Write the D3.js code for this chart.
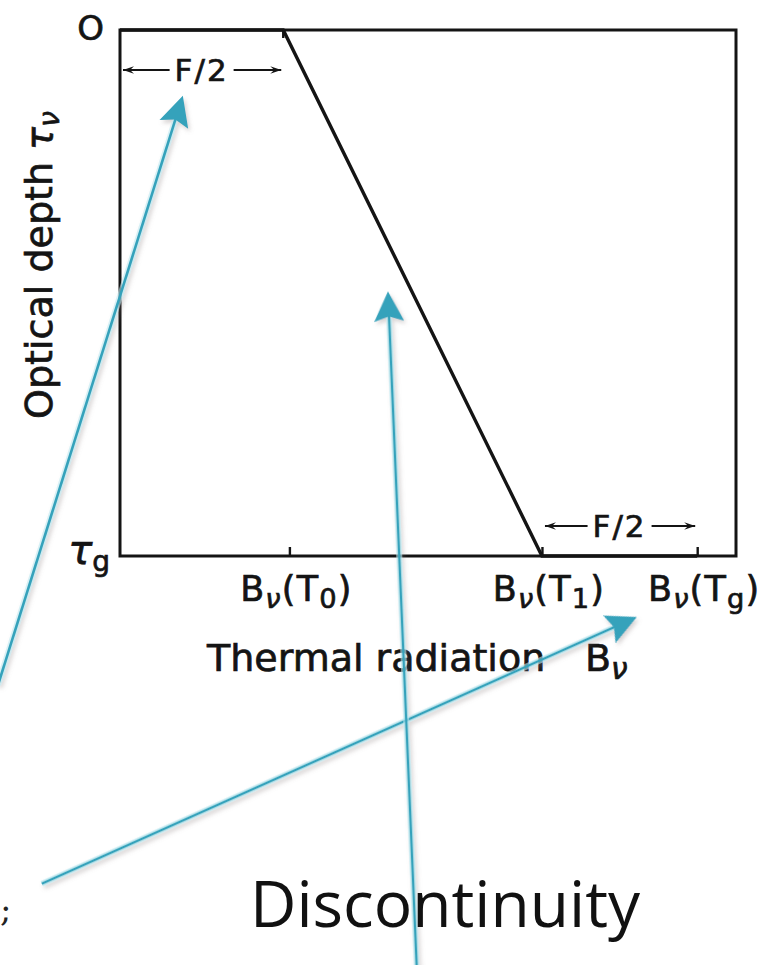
<!DOCTYPE html>
<html>
<head>
<meta charset="utf-8">
<script src="https://cdn.jsdelivr.net/npm/d3@7"></script>
<style>
  body { margin: 0; background: #fff; }
  svg { display: block; }
</style>
</head>
<body>
<svg id="chart" width="759" height="965"></svg>
<script>
// Source-function profile B_ν(τ_ν): fractions of the plotted B_ν range and of τ_g
const profileB   = [0, 0.265, 0.685, 0.937];
const profileTau = [0, 0, 1, 1];

// Marks along the B_ν axis, with the temperature subscript of each label
const xTickValues = [0.275, 0.685, 0.937];
const xTickSubs   = ["0", "1", "g"];

// Optical-depth axis marks
const yTickValues = [0, 1];
const yTickMain   = ["O", "τ"];
const yTickSubs   = ["", "g"];

// F/2 spans: start, end and depth of each dimension bracket
const bracketFrom = [0, 0.685];
const bracketTo   = [0.265, 0.937];
const bracketTau  = [0.076, 0.943];
const bracketText = ["F/2", "F/2"];

// Call-out arrows (tail → tip) in the same B_ν / τ units
const arrowTailB   = [-0.198, -0.127, 0.482];
const arrowTailTau = [1.245, 1.623, 1.79];
const arrowTipB    = [0.102, 0.839, 0.435];
const arrowTipTau  = [0.125, 1.116, 0.497];

const svg = d3.select("#chart");
const x = d3.scaleLinear().domain([0, 1]).range([120, 736]);
const y = d3.scaleLinear().domain([0, 1]).range([30, 556]);

const ink = "#141414";
const lettering = "'DejaVu Sans', 'Liberation Sans', sans-serif";

// hand-lettered look: fill plus a thin outline of the same ink
function letter(sel, size) {
  return sel.attr("font-family", lettering).attr("font-size", size)
    .attr("fill", ink).attr("stroke", ink).attr("stroke-width", 0.7);
}

// text with subscript parts: [string, isSub, italic]
function rich(sel, parts, size, subScale = 0.72) {
  parts.forEach(([s, sub, italic]) => {
    const t = sel.append("tspan").text(s);
    if (sub) t.attr("font-size", size * subScale).attr("baseline-shift", "-25%");
    if (italic) t.attr("font-style", "italic");
  });
  return sel;
}

const defs = svg.append("defs");
defs.append("marker")
  .attr("id", "barb").attr("viewBox", "-12 -6 14 12")
  .attr("markerWidth", 14).attr("markerHeight", 12)
  .attr("markerUnits", "userSpaceOnUse")
  .attr("refX", 0).attr("refY", 0)
  .attr("orient", "auto-start-reverse")
  .append("path").attr("d", "M0,0 L-11,-3.8 L-7,0 L-11,3.8 Z").attr("fill", ink);

const shadow = defs.append("filter").attr("id", "soft")
  .attr("x", "-20%").attr("y", "-20%").attr("width", "140%").attr("height", "140%");
shadow.append("feDropShadow").attr("dx", 2).attr("dy", 3).attr("stdDeviation", 2.2)
  .attr("flood-color", "#8a7f80").attr("flood-opacity", 0.35);

// frame
svg.append("rect")
  .attr("x", x(0)).attr("y", y(0))
  .attr("width", x(1) - x(0)).attr("height", y(1) - y(0))
  .attr("fill", "none").attr("stroke", ink).attr("stroke-width", 3);

// B_ν axis ticks (drawn inward from the bottom edge)
const xAxis = d3.axisBottom(x).tickValues(xTickValues).tickSize(-9).tickFormat("");
const gx = svg.append("g").attr("transform", `translate(0,${y(1)})`).call(xAxis);
gx.select(".domain").remove();
gx.selectAll(".tick line").attr("stroke", ink).attr("stroke-width", 2.4);

// tick labels B_ν(T_x)
xTickValues.forEach((v, i) => {
  const t = letter(svg.append("text"), 35)
    .attr("x", x(v) + 7).attr("y", 601)
    .attr("text-anchor", "middle").attr("letter-spacing", 1.2);
  rich(t, [["B"], ["ν", true, true], ["(T"], [xTickSubs[i], true], [")"]], 35, 0.78);
});

// τ axis labels
yTickValues.forEach((v, i) => {
  const t = letter(svg.append("text"), i === 0 ? 34 : 40)
    .attr("x", x(0) - (i === 0 ? 16 : 10)).attr("y", y(v)).attr("dy", i === 0 ? "0.3em" : "0.2em")
    .attr("text-anchor", "end");
  rich(t, [[yTickMain[i], false, i === 1], [yTickSubs[i], true]], 40, 0.7);
});

// profile line
const line = d3.line().x(d => x(d[0])).y(d => y(d[1]));
svg.append("path")
  .datum(profileB.map((b, i) => [b, profileTau[i]]))
  .attr("d", line)
  .attr("fill", "none").attr("stroke", ink).attr("stroke-width", 3.4)
  .attr("stroke-linejoin", "miter");

// F/2 brackets
bracketFrom.forEach((b0, i) => {
  const yy = y(bracketTau[i]);
  const cx = (x(b0) + x(bracketTo[i])) / 2;
  const label = letter(svg.append("text"), 31)
    .attr("x", cx).attr("y", yy).attr("dy", "0.36em")
    .attr("text-anchor", "middle").attr("letter-spacing", 2)
    .text(bracketText[i]);
  const w = label.node().getComputedTextLength();
  const gap = 5;
  [[cx - w / 2 - gap, x(b0) + 3], [cx + w / 2 + gap, x(bracketTo[i]) - 2]].forEach(([a, b]) => {
    svg.append("line")
      .attr("x1", a).attr("y1", yy).attr("x2", b).attr("y2", yy)
      .attr("stroke", ink).attr("stroke-width", 2.2)
      .attr("marker-end", "url(#barb)");
  });
});
// tick closing the top bracket
svg.append("line")
  .attr("x1", x(bracketTo[0])).attr("x2", x(bracketTo[0]))
  .attr("y1", y(0)).attr("y2", y(0) + 8)
  .attr("stroke", ink).attr("stroke-width", 2.4);

// axis titles
const yt = letter(svg.append("text"), 38)
  .attr("transform", `translate(52,${265}) rotate(-90)`)
  .attr("text-anchor", "middle");
rich(yt, [["Optical depth  "], ["τ", false, true], ["ν", true, true]], 38, 0.75);

letter(svg.append("text"), 38)
  .attr("x", 207).attr("y", 671)
  .text("Thermal radiation");
const bt = letter(svg.append("text"), 38)
  .attr("x", 585).attr("y", 671);
rich(bt, [["B"], ["ν", true, true]], 38, 0.78);

// stray punctuation at the left edge
svg.append("text").attr("x", 0).attr("y", 921)
  .attr("font-family", "'DejaVu Serif', serif").attr("font-size", 34).attr("fill", "#222")
  .text(";");

// call-out arrows
const teal = "#35a2bb";
const arrows = svg.append("g").attr("filter", "url(#soft)");
arrowTipB.forEach((tb, i) => {
  const x0 = x(arrowTailB[i]), y0 = y(arrowTailTau[i]);
  const x1 = x(tb), y1 = y(arrowTipTau[i]);
  const ang = Math.atan2(y1 - y0, x1 - x0) * 180 / Math.PI;
  const len = Math.hypot(x1 - x0, y1 - y0);
  const g = arrows.append("g").attr("transform", `translate(${x0},${y0}) rotate(${ang})`);
  g.append("line").attr("x1", 0).attr("y1", 0).attr("x2", len - 20).attr("y2", 0)
    .attr("stroke", "#bfe9f1").attr("stroke-width", 6).attr("stroke-opacity", 0.6);
  g.append("line").attr("x1", 0).attr("y1", 0).attr("x2", len - 20).attr("y2", 0)
    .attr("stroke", teal).attr("stroke-width", 2.6);
  g.append("path")
    .attr("d", `M${len},0 L${len - 30},-15 L${len - 25},0 L${len - 30},15 Z`)
    .attr("fill", teal);
});

// annotation
svg.append("text")
  .attr("x", 250).attr("y", 927)
  .attr("font-family", "'Open Sans', sans-serif").attr("font-size", 64).attr("fill", "#111")
  .text("Discontinuity");
</script>
</body>
</html>
